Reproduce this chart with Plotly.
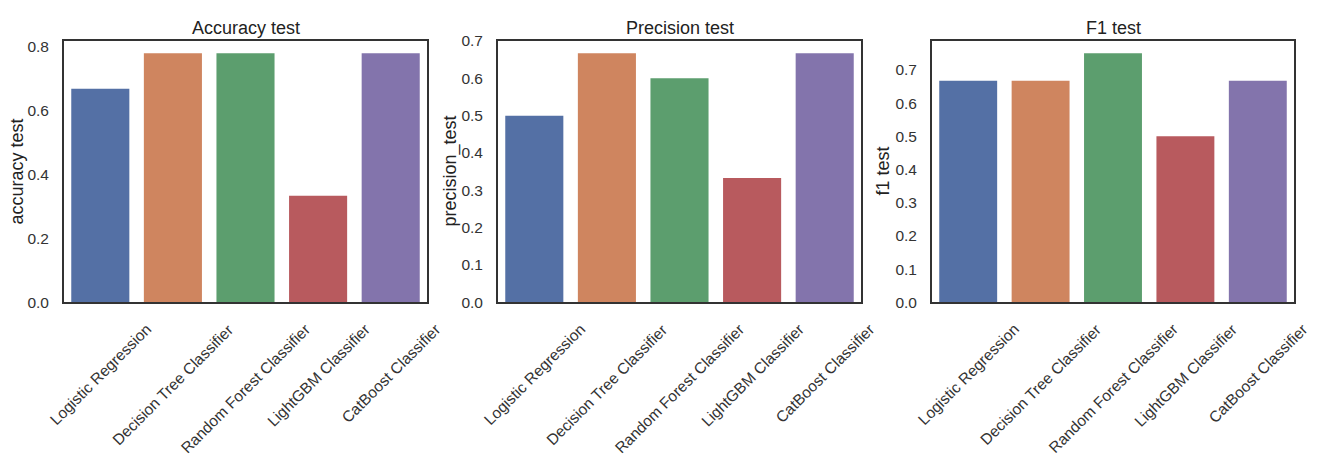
import plotly.graph_objects as go

models = ["Logistic Regression", "Decision Tree Classifier", "Random Forest Classifier",
          "LightGBM Classifier", "CatBoost Classifier"]
accuracy_test = [0.667, 0.778, 0.778, 0.333, 0.778]
precision_test = [0.5, 0.667, 0.6, 0.333, 0.667]
f1_test = [0.667, 0.667, 0.75, 0.5, 0.667]
colors = ["#5470A5", "#CF855F", "#5C9E6E", "#B85A5E", "#8374AC"]

panels = [
    ("Accuracy test", "accuracy test", accuracy_test, [0, 0.2, 0.4, 0.6, 0.8], (64, 427), 17),
    ("Precision test", "precision_test", precision_test, [0, 0.1, 0.2, 0.3, 0.4, 0.5, 0.6, 0.7], (498, 861), 451),
    ("F1 test", "f1 test", f1_test, [0, 0.1, 0.2, 0.3, 0.4, 0.5, 0.6, 0.7], (932, 1294), 883),
]

W, H = 1320, 459
top_px, bot_px = 34, 305
ydom = [1 - bot_px / H, 1 - top_px / H]
FONT = "Liberation Sans, Arial, sans-serif"

fig = go.Figure()
annotations = []
for i, (title, ylab, vals, tv, (x0, x1), ylab_x) in enumerate(panels):
    n = i + 1
    xa = "x" if n == 1 else f"x{n}"
    ya = "y" if n == 1 else f"y{n}"
    fig.add_trace(go.Bar(x=list(range(len(models))), y=vals, marker=dict(color=colors, line=dict(width=0)),
                         xaxis=xa, yaxis=ya, showlegend=False, width=0.8))
    ymax = max(vals) * 1.05
    fig.update_layout(**{
        ("xaxis" if n == 1 else f"xaxis{n}"): dict(
            domain=[x0 / W, x1 / W], range=[-0.5, 4.5], showticklabels=False, ticks="",
            showline=True, mirror=True, linecolor="#333333", linewidth=1.8, showgrid=False,
            zeroline=False, anchor=ya),
        ("yaxis" if n == 1 else f"yaxis{n}"): dict(
            domain=ydom, range=[0, ymax], tickvals=tv, tickformat=".1f", ticks="",
            ticklabelstandoff=10, showline=True, mirror=True, linecolor="#333333", linewidth=1.8,
            showgrid=False, zeroline=False, anchor=xa,
            tickfont=dict(family=FONT, size=15.5, color="#333333")),
    })
    cx = (x0 + x1) / 2 / W
    annotations.append(dict(text=title, x=cx, xref="paper", y=ydom[1], yref="paper",
                            xanchor="center", yanchor="bottom", yshift=1, showarrow=False,
                            font=dict(family=FONT, size=18, color="#222222")))
    annotations.append(dict(text=ylab, x=ylab_x / W, xref="paper", y=(ydom[0] + ydom[1]) / 2,
                            yref="paper", xanchor="center", yanchor="middle", textangle=-90,
                            showarrow=False, font=dict(family=FONT, size=18, color="#222222")))
    for j, m in enumerate(models):
        annotations.append(dict(text=m, x=j, xref=xa, y=0, yref=ya + " domain", xanchor="center",
                                yanchor="top", yshift=-17, textangle=-45, showarrow=False,
                                borderpad=0, font=dict(family=FONT, size=15.5, color="#333333")))

fig.update_layout(width=W, height=H, margin=dict(l=0, r=0, t=0, b=0), paper_bgcolor="white",
                  plot_bgcolor="white", bargap=0.2, annotations=annotations)
fig.write_html("out.html", config={"displayModeBar": False},
               post_script="document.body.style.margin='0';document.body.style.overflow='hidden';")
